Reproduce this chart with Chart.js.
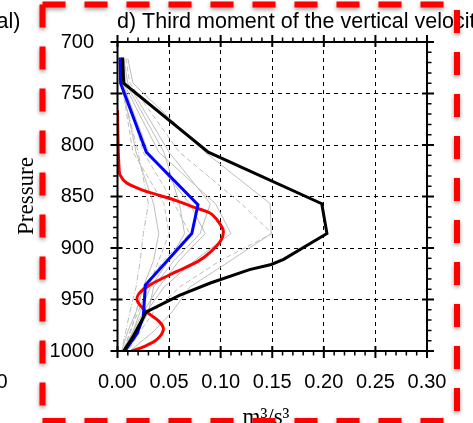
<!DOCTYPE html>
<html>
<head>
<meta charset="utf-8">
<script src="https://cdn.jsdelivr.net/npm/chart.js@4/dist/chart.umd.min.js"></script>
<style>
  html, body { margin: 0; padding: 0; background: #fff; overflow: hidden; }
  #wrap { position: relative; width: 473px; height: 423px; }
</style>
</head>
<body>
<div id="wrap"><canvas id="c" width="473" height="423"></canvas></div>
<script>
// Axis ticks
const xTicks = [0, 0.05, 0.10, 0.15, 0.20, 0.25, 0.30];
const yTicks = [700, 750, 800, 850, 900, 950, 1000];
const minorPerMajor = 5;

// Ensemble mean / reference profiles (pressure in hPa, w'^3 in m^3/s^3)
const blackP = [715, 740, 807, 857, 886, 911, 916, 921, 934, 946, 962, 973, 986, 1000];
const blackX = [0.005, 0.006, 0.088, 0.198, 0.203, 0.161, 0.149, 0.128, 0.090, 0.060, 0.028, 0.022, 0.015, 0.006];

const blueP = [715, 740, 807, 858, 886, 936, 967, 983, 1000];
const blueX = [0.0025, 0.003, 0.028, 0.078, 0.072, 0.027, 0.025, 0.019, 0.007];

const redP = [766, 800, 822, 829, 837, 844, 849, 854, 860, 866, 872, 883, 893, 904, 913, 923, 936, 944, 951, 961, 971, 979, 989, 996, 1000];
const redX = [0.0, 0.0006, 0.0015, 0.0024, 0.009, 0.025, 0.041, 0.057, 0.073, 0.0896, 0.096, 0.1025, 0.100, 0.090, 0.078, 0.057, 0.031, 0.021, 0.019, 0.027, 0.040, 0.0445, 0.038, 0.025, 0.014];

// Individual members
const memberP = [716, 740, 807, 857, 886, 912, 938, 962, 981, 1000];
const member01 = [0.010, 0.015, 0.085, 0.148, 0.149, 0.110, 0.070, 0.053, 0.035, 0.012];
const member02 = [0.008, 0.012, 0.060, 0.120, 0.150, 0.100, 0.060, 0.035, 0.022, 0.010];
const member03 = [0.004, 0.006, 0.040, 0.095, 0.110, 0.075, 0.045, 0.028, 0.018, 0.006];
const member04 = [0.003, 0.005, 0.030, 0.070, 0.085, 0.060, 0.040, 0.025, 0.015, 0.005];
const member05 = [0.002, 0.003, 0.020, 0.030, 0.025, 0.022, 0.018, 0.012, 0.008, 0.004];
const member06 = [0.003, 0.004, 0.015, 0.045, 0.050, 0.040, 0.030, 0.020, 0.012, 0.006];
const member07 = [0.005, 0.008, 0.045, 0.060, 0.065, 0.050, 0.032, 0.022, 0.015, 0.007];
const member08 = [0.006, 0.010, 0.050, 0.090, 0.080, 0.055, 0.035, 0.030, 0.020, 0.009];
const member09 = [0.004, 0.006, 0.025, 0.055, 0.070, 0.045, 0.025, 0.018, 0.013, 0.005];
const member10 = [0.002, 0.004, 0.018, 0.035, 0.040, 0.035, 0.025, 0.018, 0.010, 0.004];
const members = [member01, member02, member03, member04, member05, member06, member07, member08, member09, member10];
const memberDash = [[], [5, 3], [], [], [6, 2, 1, 2], [5, 3], [], [], [5, 3], []];

const toPts = (xs, ps) => xs.map((v, i) => ({ x: v, y: ps[i] }));

const datasets = [];
datasets.push({ data: toPts(blackX, blackP), borderColor: '#000000', borderWidth: 3, order: 0 });
datasets.push({ data: toPts(blueX, blueP), borderColor: '#0000ff', borderWidth: 3, order: 1 });
datasets.push({ data: toPts(redX, redP), borderColor: '#ff0000', borderWidth: 3, tension: 0.3, order: 2 });
members.forEach((m, i) => {
  datasets.push({ data: toPts(m, memberP), borderColor: '#bdbdbd', borderWidth: 1, borderDash: memberDash[i], order: 3 + i });
});

Chart.defaults.font.family = '"Liberation Sans", Arial, sans-serif';
Chart.defaults.color = '#000';

// Frame, tick marks on all four sides
const frame = {
  id: 'frame',
  afterDatasetsDraw(chart) {
    const { ctx, chartArea: a, scales: { x, y } } = chart;
    const minors = (ticks) => {
      const out = [];
      for (let i = 0; i < ticks.length - 1; i++)
        for (let k = 1; k < minorPerMajor; k++)
          out.push(ticks[i] + (ticks[i + 1] - ticks[i]) * k / minorPerMajor);
      return out;
    };
    ctx.save();
    ctx.strokeStyle = '#000';
    ctx.lineCap = 'butt';
    ctx.lineWidth = 1.5;
    ctx.beginPath();
    minors(xTicks).forEach(v => {
      const px = x.getPixelForValue(v);
      ctx.moveTo(px, a.bottom); ctx.lineTo(px, a.bottom + 4.5);
      ctx.moveTo(px, a.top); ctx.lineTo(px, a.top - 4.5);
    });
    minors(yTicks).forEach(v => {
      const py = y.getPixelForValue(v);
      ctx.moveTo(a.left, py); ctx.lineTo(a.left - 4.5, py);
      ctx.moveTo(a.right, py); ctx.lineTo(a.right + 4.5, py);
    });
    ctx.stroke();
    ctx.lineWidth = 2;
    ctx.beginPath();
    xTicks.forEach(v => {
      const px = x.getPixelForValue(v);
      ctx.moveTo(px, a.bottom - 5); ctx.lineTo(px, a.bottom + 7);
      ctx.moveTo(px, a.top + 5); ctx.lineTo(px, a.top - 7);
    });
    yTicks.forEach(v => {
      const py = y.getPixelForValue(v);
      ctx.moveTo(a.left + 5, py); ctx.lineTo(a.left - 7, py);
      ctx.moveTo(a.right - 5, py); ctx.lineTo(a.right + 7, py);
    });
    ctx.stroke();
    ctx.strokeRect(a.left, a.top, a.right - a.left, a.bottom - a.top);
    ctx.restore();
  },
  afterDraw(chart) {
    const { ctx } = chart;
    ctx.save();
    ctx.fillStyle = '#000';
    ctx.textBaseline = 'alphabetic';
    ctx.font = '21.5px "Liberation Sans", Arial, sans-serif';
    ctx.textAlign = 'left';
    ctx.fillText('d) Third moment of the vertical velocity', 117, 28);
    ctx.textAlign = 'right';
    ctx.fillText('al)', 20.5, 28);
    ctx.font = '20px "Liberation Sans", Arial, sans-serif';
    ctx.textBaseline = 'middle';
    ctx.fillText('0', 7.5, 382.5);

    ctx.font = '23px "Liberation Serif", "Times New Roman", serif';
    ctx.textBaseline = 'alphabetic';
    ctx.textAlign = 'center';
    ctx.fillText('m\u00B3/s\u00B3', 266, 424);
    ctx.save();
    ctx.translate(33, 196);
    ctx.rotate(-Math.PI / 2);
    ctx.fillText('Pressure', 0, 0);
    ctx.restore();

    // red dashed outline with soft shadow
    ctx.strokeStyle = '#ff0000';
    ctx.lineWidth = 6;
    ctx.lineCap = 'butt';
    ctx.shadowColor = 'rgba(0,0,0,0.4)';
    ctx.shadowBlur = 4;
    ctx.shadowOffsetY = 2;
    const L = 42.5, T = 4.5, R = 457, B = 421;
    const seg = (x1, y1, x2, y2, off) => {
      ctx.setLineDash([23, 19]);
      ctx.lineDashOffset = off;
      ctx.beginPath(); ctx.moveTo(x1, y1); ctx.lineTo(x2, y2); ctx.stroke();
    };
    seg(L - 3, T, R + 3, T, -3);
    seg(L, T, L, B + 3, 0);
    seg(R, T, R, B + 3, 36.5);
    seg(L - 3, B, R + 3, B, -3);
    ctx.restore();
  }
};

new Chart(document.getElementById('c'), {
  type: 'scatter',
  data: { datasets },
  options: {
    responsive: false,
    animation: false,
    showLine: true,
    layout: { padding: { left: 0, right: 46, top: 42, bottom: 0 } },
    elements: { point: { radius: 0, hoverRadius: 0 }, line: { fill: false, borderCapStyle: 'butt', borderJoinStyle: 'miter' } },
    plugins: { legend: { display: false }, tooltip: { enabled: false } },
    scales: {
      x: {
        type: 'linear', position: 'bottom', min: 0, max: 0.30,
        afterBuildTicks: s => { s.ticks = xTicks.map(v => ({ value: v })); },
        afterFit: s => { s.height = 72; },
        ticks: { padding: 19.5, font: { size: 20 }, color: '#000', maxRotation: 0, callback: v => Number(v).toFixed(2) },
        grid: { drawTicks: false, color: '#000', lineWidth: 1 },
        border: { display: false, dash: [4, 4] }
      },
      y: {
        type: 'linear', position: 'left', min: 700, max: 1000, reverse: true,
        afterBuildTicks: s => { s.ticks = yTicks.map(v => ({ value: v })); },
        afterFit: s => { s.width = 117.5; },
        ticks: { padding: 23.5, font: { size: 20 }, color: '#000', callback: v => String(v) },
        grid: { drawTicks: false, color: '#000', lineWidth: 1 },
        border: { display: false, dash: [4, 4] }
      }
    }
  },
  plugins: [frame]
});
</script>
</body>
</html>
